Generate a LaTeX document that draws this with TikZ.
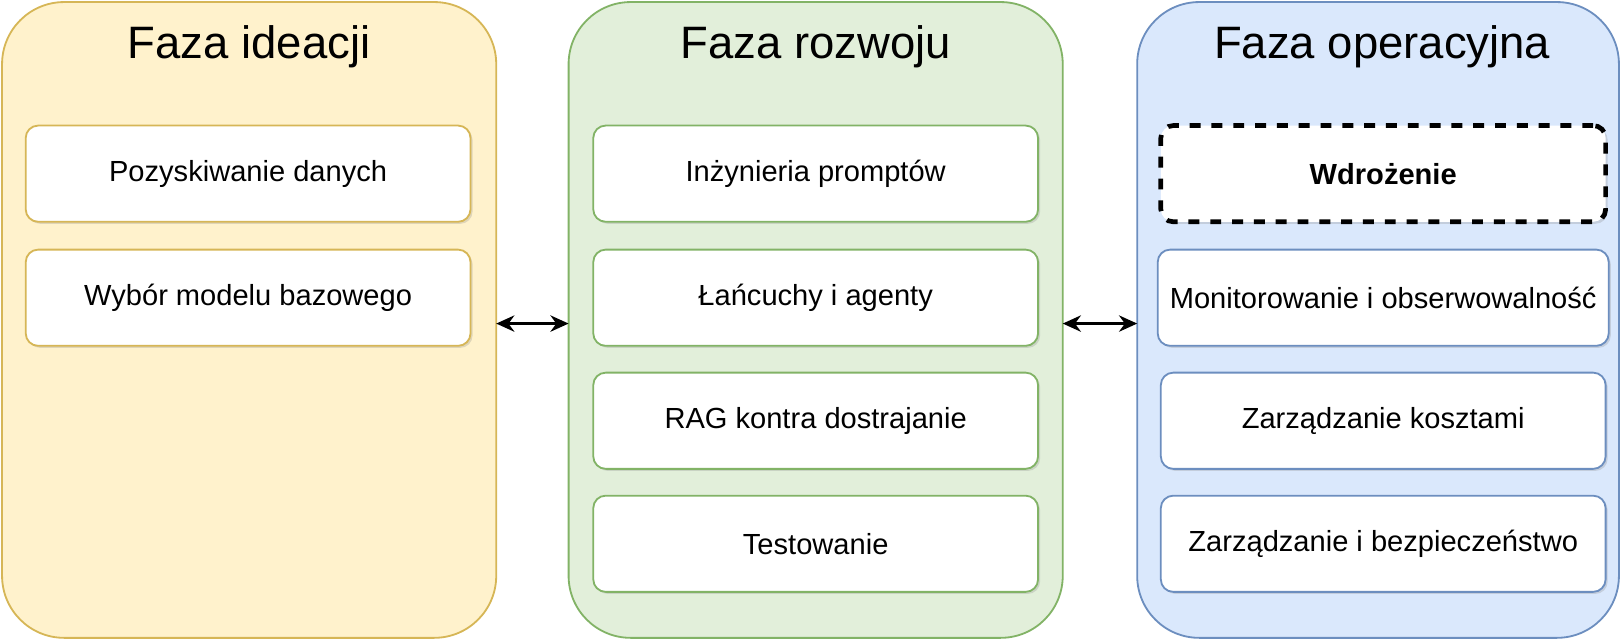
\documentclass[tikz,border=0pt]{standalone}
\usepackage{fontspec}
\setmainfont{Liberation Sans}
\usetikzlibrary{shadows,arrows.meta}
\definecolor{yfill}{HTML}{FFF2CC}
\definecolor{ydraw}{HTML}{D6B656}
\definecolor{gfill}{HTML}{E2EFDA}
\definecolor{gdraw}{HTML}{82B366}
\definecolor{bfill}{HTML}{DAE8FC}
\definecolor{bdraw}{HTML}{6C8EBF}
\tikzset{
  phase/.style={draw=#1, line width=0.5pt, rounded corners=0.6cm},
  step/.style={draw=#1, fill=white, line width=0.5pt, rounded corners=0.12cm,
    minimum width=4.3cm, minimum height=0.93cm, font=\fontsize{8}{10}\selectfont,
    drop shadow={shadow xshift=0.02cm, shadow yshift=-0.02cm, opacity=0.25}},
  title/.style={font=\fontsize{12.5}{15}\selectfont}
}
\begin{document}
\begin{tikzpicture}[x=0.01cm,y=-0.01cm]
        \useasboundingbox (0,0) rectangle (1568,619);
        % Phases
        \draw[phase=ydraw, fill=yfill] (2,2) rectangle (480,617);
        \draw[phase=gdraw, fill=gfill] (550,2) rectangle (1028,617);
        \draw[phase=bdraw, fill=bfill] (1100,2) rectangle (1566,617);
        \node[title] (t1) at (241,45) {Faza ideacji};
        \node[title] (t2) at (789,45) {Faza rozwoju};
        \node[title] (t3) at (1337,45) {Faza operacyjna};

        % Ideation
        \node[step=ydraw] (pozysk) at (240,168) {Pozyskiwanie danych};
        \node[step=ydraw] (wybor) at (240,288) {Wybór modelu bazowego};

        % Development
        \node[step=gdraw] (prompt) at (789,168) {Inżynieria promptów};
        \node[step=gdraw] (lanc) at (789,288) {Łańcuchy i agenty};
        \node[step=gdraw] (rag) at (789,407) {RAG kontra dostrajanie};
        \node[step=gdraw] (test) at (789,526) {Testowanie};

        % Operations
        \node[step=black, line width=1.3pt, dashed, font=\fontsize{8}{10}\selectfont\bfseries] (wdroz) at (1338,168) {Wdrożenie};
        \node[step=bdraw] (monit) at (1338,288) {Monitorowanie i obserwowalność};
        \node[step=bdraw] (koszt) at (1338,407) {Zarządzanie kosztami};
        \node[step=bdraw] (bezp) at (1338,526) {Zarządzanie i bezpieczeństwo};

        % Links
        \coordinate (a1) at (480,313);
        \coordinate (a2) at (550,313);
        \coordinate (a3) at (1028,313);
        \coordinate (a4) at (1100,313);
        \draw[{Stealth[length=5pt,width=4.5pt]}-{Stealth[length=5pt,width=4.5pt]}, line width=0.7pt] (a1) -- (a2);
        \draw[{Stealth[length=5pt,width=4.5pt]}-{Stealth[length=5pt,width=4.5pt]}, line width=0.7pt] (a3) -- (a4);
    \end{tikzpicture}
\end{document}
